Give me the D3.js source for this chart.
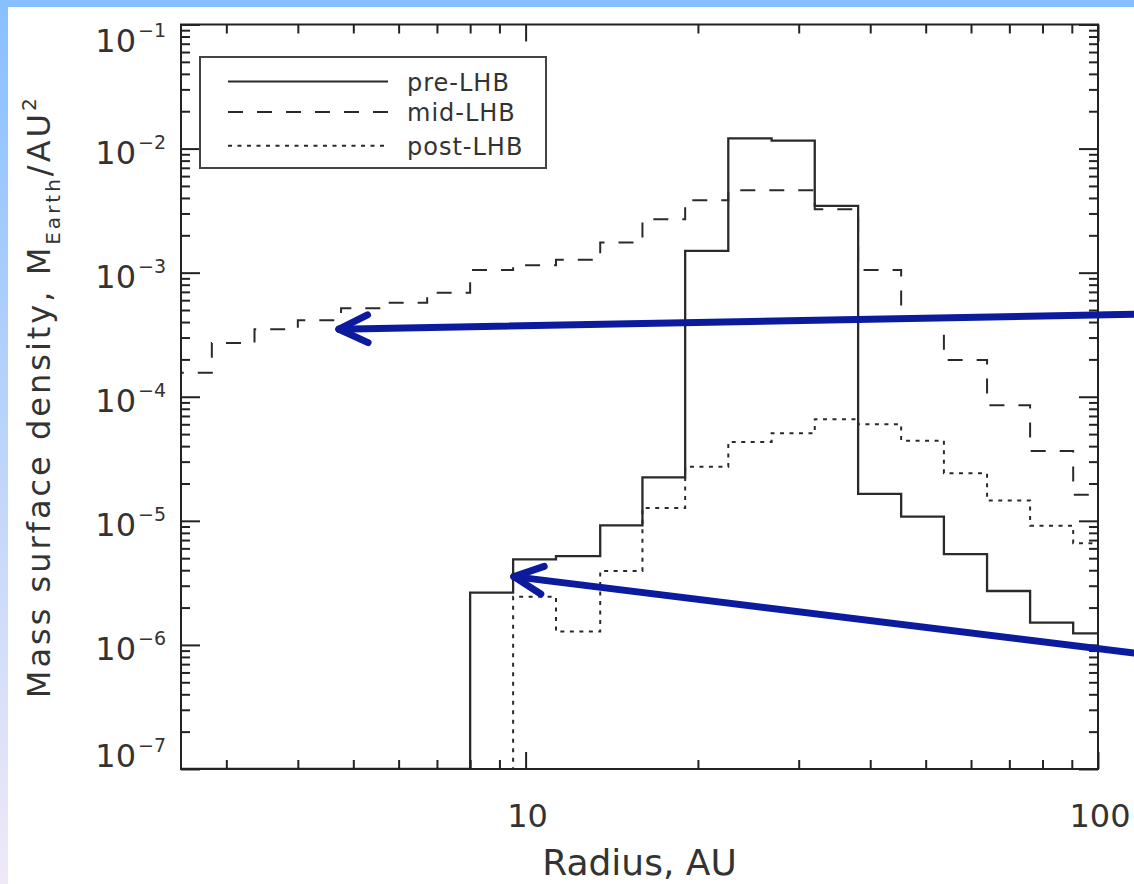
<!DOCTYPE html>
<html>
<head>
<meta charset="utf-8">
<script src="https://cdn.jsdelivr.net/npm/d3@7"></script>
<style>
  body { margin: 0; background: #fff; }
  text { font-family: "DejaVu Sans", sans-serif; fill: #333; }
</style>
</head>
<body>
<svg id="chart" width="1134" height="884"></svg>
<script>
// Bin edges (AU)
var binEdges = [2.38, 2.83, 3.36, 4.0, 4.76, 5.66, 6.73, 8.0, 9.51, 11.3, 13.5, 16.0,
                19.0, 22.6, 26.9, 32.0, 38.1, 45.3, 53.8, 64.0, 76.1, 90.5, 107.6];

// Mass surface density per bin (M_Earth/AU^2), 0 = below the plotted range
var preLHB  = [0, 0, 0, 0, 0, 0, 0, 2.64e-6, 4.9e-6, 5.2e-6, 9.2e-6, 2.24e-5,
               1.5e-3, 1.21e-2, 1.16e-2, 3.45e-3, 1.65e-5, 1.08e-5, 5.4e-6, 2.72e-6, 1.51e-6, 1.24e-6];
var midLHB  = [1.56e-4, 2.71e-4, 3.5e-4, 4.13e-4, 5.16e-4, 5.73e-4, 6.9e-4, 1.05e-3, 1.15e-3, 1.27e-3, 1.75e-3,
               2.69e-3, 3.83e-3, 4.61e-3, 4.61e-3, 3.24e-3, 1.05e-3, 4.2e-4, 1.98e-4, 8.55e-5, 3.66e-5, 1.62e-5];
var postLHB = [0, 0, 0, 0, 0, 0, 0, 0, 2.44e-6, 1.28e-6, 3.95e-6, 1.27e-5,
               2.73e-5, 4.32e-5, 5.08e-5, 6.59e-5, 6.0e-5, 4.43e-5, 2.42e-5, 1.46e-5, 9.14e-6, 6.6e-6];

var seriesNames = ["pre-LHB", "mid-LHB", "post-LHB"];

// Axis ticks & labels
var xTickValues = [10, 100];
var xTickLabels = ["10", "100"];
var yTickValues = [1e-7, 1e-6, 1e-5, 1e-4, 1e-3, 1e-2, 1e-1];
var yTickExps   = ["\u22127", "\u22126", "\u22125", "\u22124", "\u22123", "\u22122", "\u22121"];

// Annotation arrows: [tail, tip] in data coords
var arrowTails = [[115.6, 4.62e-4], [115.6, 8.6e-7]];
var arrowTips  = [[4.72, 3.5e-4], [9.54, 3.55e-6]];

var svg = d3.select("#chart");

// Background frame: blue strip on top, gradient strip on the left
var defs = svg.append("defs");
var grad = defs.append("linearGradient")
  .attr("id", "leftGrad")
  .attr("x1", 0).attr("y1", 0).attr("x2", 0).attr("y2", 1);
grad.append("stop").attr("offset", "0%").attr("stop-color", "#88c0ff");
grad.append("stop").attr("offset", "100%").attr("stop-color", "#efe9f7");

svg.append("rect").attr("x", 0).attr("y", 0).attr("width", 8).attr("height", 884)
  .attr("fill", "url(#leftGrad)");
svg.append("rect").attr("x", 0).attr("y", 0).attr("width", 1134).attr("height", 7)
  .attr("fill", "#88c0ff");

// Plot box
var plotL = 181, plotR = 1098, plotT = 24.5, plotB = 769;

var x = d3.scaleLog().domain([2.5, 100]).range([plotL, plotR]);
var y = d3.scaleLog().domain([1e-7, 1e-1]).range([plotB, plotT]);

defs.append("clipPath").attr("id", "plotClip")
  .append("rect")
  .attr("x", plotL).attr("y", plotT)
  .attr("width", plotR - plotL).attr("height", plotB - plotT);

// Histogram step lines
var stepLine = d3.line()
  .x(function(d) { return x(d[0]); })
  .y(function(d) { return y(Math.max(d[1], 1e-7)); })
  .curve(d3.curveStepAfter);

function stepPoints(values) {
  var pts = values.map(function(v, i) { return [binEdges[i], v]; });
  pts.push([binEdges[values.length], values[values.length - 1]]);
  return pts;
}

var seriesStyles = [
  { data: preLHB,  dash: null,   width: 2.3 },
  { data: midLHB,  dash: "15,14", width: 2 },
  { data: postLHB, dash: "4,5.5", width: 2 }
];

var plotG = svg.append("g").attr("clip-path", "url(#plotClip)");
seriesStyles.forEach(function(s) {
  plotG.append("path")
    .attr("d", stepLine(stepPoints(s.data)))
    .attr("fill", "none")
    .attr("stroke", "#2a2a2a")
    .attr("stroke-width", s.width)
    .attr("stroke-dasharray", s.dash);
});

// Axes: ticks drawn inward on all four sides
var xMinor = x.ticks().filter(function(t) { return xTickValues.indexOf(t) < 0; });
var yMinor = y.ticks().filter(function(t) { return yTickValues.indexOf(t) < 0; });

function drawTicks(axis, tx, ty, values, size) {
  var g = svg.append("g")
    .attr("transform", "translate(" + tx + "," + ty + ")")
    .call(axis.tickValues(values).tickSize(size).tickFormat(""));
  g.select(".domain").remove();
  g.selectAll("line").attr("stroke", "#222").attr("stroke-width", 2);
}

drawTicks(d3.axisBottom(x), 0, plotB, xMinor, -9);
drawTicks(d3.axisBottom(x), 0, plotB, xTickValues, -17);
drawTicks(d3.axisTop(x), 0, plotT, xMinor, -9);
drawTicks(d3.axisTop(x), 0, plotT, xTickValues, -17);
drawTicks(d3.axisLeft(y), plotL, 0, yMinor, -9);
drawTicks(d3.axisLeft(y), plotL, 0, yTickValues, -19);
drawTicks(d3.axisRight(y), plotR, 0, yMinor, -9);
drawTicks(d3.axisRight(y), plotR, 0, yTickValues, -19);

svg.append("rect")
  .attr("x", plotL).attr("y", plotT)
  .attr("width", plotR - plotL).attr("height", plotB - plotT)
  .attr("fill", "none")
  .attr("stroke", "#222")
  .attr("stroke-width", 2);

// X tick labels
svg.selectAll(".xlab")
  .data(xTickValues)
  .enter().append("text")
  .attr("class", "xlab")
  .attr("x", function(d) { return x(d) + 2; })
  .attr("y", 827)
  .attr("text-anchor", "middle")
  .style("font-size", "32px")
  .text(function(d, i) { return xTickLabels[i]; });

// Y tick labels (10 with superscript exponent)
var ylab = svg.selectAll(".ylab")
  .data(yTickValues)
  .enter().append("text")
  .attr("class", "ylab")
  .attr("x", 166)
  .attr("y", function(d) { return Math.min(Math.max(y(d) + 15, 51.5), 767); })
  .attr("text-anchor", "end");
ylab.append("tspan").style("font-size", "32px").text("10");
ylab.append("tspan")
  .attr("dx", 2)
  .attr("dy", -15)
  .style("font-size", "19px")
  .text(function(d, i) { return yTickExps[i]; });

// Axis titles
svg.append("text")
  .attr("x", (plotL + plotR) / 2)
  .attr("y", 875)
  .attr("text-anchor", "middle")
  .style("font-size", "36px")
  .text("Radius, AU");

var ytitle = svg.append("text")
  .attr("transform", "translate(50," + ((plotT + plotB) / 2) + ") rotate(-90)")
  .attr("text-anchor", "middle")
  .style("font-size", "32px")
  .style("letter-spacing", "3px");
ytitle.append("tspan").text("Mass surface density, M");
ytitle.append("tspan").attr("dy", 10).style("font-size", "20px").text("Earth");
ytitle.append("tspan").attr("dy", -10).text("/AU");
ytitle.append("tspan").attr("dy", -14).style("font-size", "20px").text("2");

// Legend
var legend = svg.append("g");
legend.append("rect")
  .attr("x", 200).attr("y", 57)
  .attr("width", 346).attr("height", 111)
  .attr("fill", "#fff")
  .attr("stroke", "#444")
  .attr("stroke-width", 2);

var legendRows = [81.5, 112, 145.8];
var legendG = legend.selectAll(".legend")
  .data(seriesStyles)
  .enter().append("g")
  .attr("class", "legend")
  .attr("transform", function(d, i) { return "translate(0," + legendRows[i] + ")"; });

legendG.append("line")
  .attr("x1", 228).attr("x2", 388)
  .attr("y1", 0).attr("y2", 0)
  .attr("stroke", "#2a2a2a")
  .attr("stroke-width", 2)
  .attr("stroke-dasharray", function(d) { return d.dash; });

legendG.append("text")
  .attr("x", 407)
  .attr("y", 9)
  .style("font-size", "24px")
  .style("letter-spacing", "1px")
  .text(function(d, i) { return seriesNames[i]; });

// Blue annotation arrows
var arrowColour = "#0c1a9e";
var arrowG = svg.append("g")
  .attr("stroke", arrowColour)
  .attr("stroke-width", 7)
  .attr("stroke-linecap", "round")
  .attr("fill", "none");

arrowTips.forEach(function(tip, i) {
  var tail = arrowTails[i];
  var tx = x(tip[0]), ty = y(tip[1]);
  var sx = x(tail[0]), sy = y(tail[1]);
  arrowG.append("line")
    .attr("x1", sx).attr("y1", sy)
    .attr("x2", tx).attr("y2", ty);
  var ang = Math.atan2(sy - ty, sx - tx);
  [-0.45, 0.45].forEach(function(da) {
    arrowG.append("line")
      .attr("x1", tx).attr("y1", ty)
      .attr("x2", tx + 32 * Math.cos(ang + da))
      .attr("y2", ty + 32 * Math.sin(ang + da));
  });
});
</script>
</body>
</html>
